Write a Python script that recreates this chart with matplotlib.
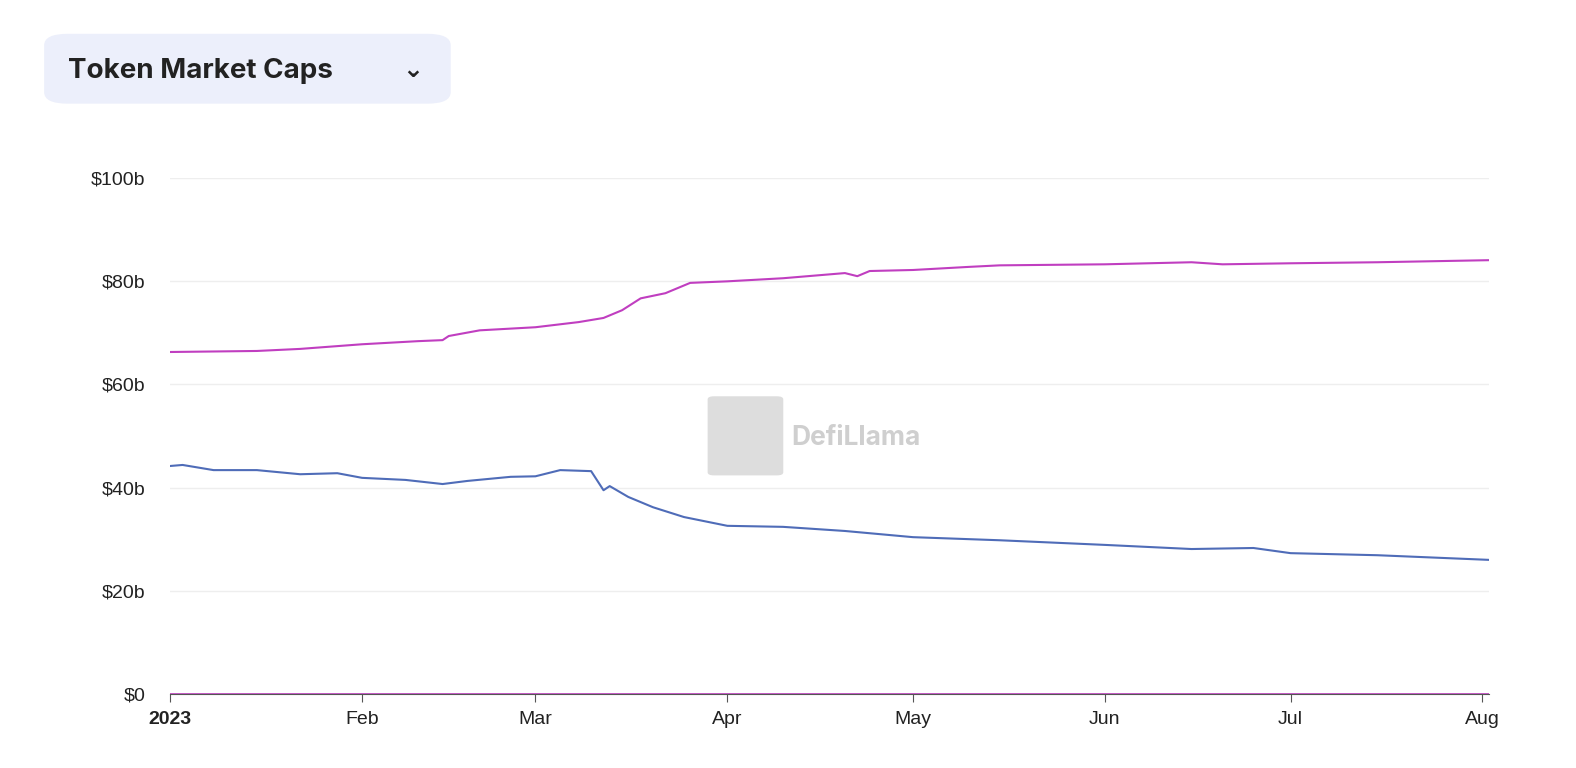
import matplotlib.pyplot as plt
from matplotlib.patches import FancyBboxPatch
import pandas as pd

# dados (bilhões de USD)
pink_dates = ['2023-01-01', '2023-01-15', '2023-01-22', '2023-02-01', '2023-02-10', '2023-02-14',
              '2023-02-15', '2023-02-20', '2023-03-01', '2023-03-08', '2023-03-12', '2023-03-15',
              '2023-03-18', '2023-03-22', '2023-03-26', '2023-04-01', '2023-04-10', '2023-04-20',
              '2023-04-22', '2023-04-24', '2023-05-01', '2023-05-10', '2023-05-15', '2023-06-01',
              '2023-06-15', '2023-06-20', '2023-07-01', '2023-07-15', '2023-08-02']
pink_vals = [66.3, 66.5, 66.9, 67.8, 68.4, 68.6, 69.4, 70.5, 71.1, 72.1, 72.9, 74.4,
             76.7, 77.7, 79.7, 80.0, 80.6, 81.6, 81.0, 82.0, 82.2, 82.8, 83.1, 83.3,
             83.7, 83.3, 83.5, 83.7, 84.1]

blue_dates = ['2023-01-01', '2023-01-03', '2023-01-08', '2023-01-15', '2023-01-22', '2023-01-28',
              '2023-02-01', '2023-02-08', '2023-02-14', '2023-02-18', '2023-02-25', '2023-03-01',
              '2023-03-05', '2023-03-10', '2023-03-12', '2023-03-13', '2023-03-16', '2023-03-20',
              '2023-03-25', '2023-04-01', '2023-04-10', '2023-04-20', '2023-05-01', '2023-05-15',
              '2023-06-01', '2023-06-15', '2023-06-25', '2023-07-01', '2023-07-15', '2023-08-02']
blue_vals = [44.2, 44.4, 43.4, 43.4, 42.6, 42.8, 41.9, 41.5, 40.7, 41.3, 42.1, 42.2,
             43.4, 43.2, 39.5, 40.3, 38.2, 36.2, 34.3, 32.6, 32.4, 31.6, 30.4, 29.8,
             28.9, 28.1, 28.3, 27.3, 26.9, 26.0]

tick_dates = ['2023-01-01', '2023-02-01', '2023-03-01', '2023-04-01', '2023-05-01',
              '2023-06-01', '2023-07-01', '2023-08-01']
tick_labels = ['2023', 'Feb', 'Mar', 'Apr', 'May', 'Jun', 'Jul', 'Aug']
y_ticks = [0, 20, 40, 60, 80, 100]

plt.rcParams['font.family'] = ['Liberation Sans', 'DejaVu Sans']

fig = plt.figure(figsize=(15.76, 7.68), dpi=100)
ax = fig.add_axes([0.108, 0.0964, 0.8366, 0.6716])

ax.plot(pd.to_datetime(pink_dates), pink_vals, color='#c03ec0', lw=1.5)
ax.plot(pd.to_datetime(blue_dates), blue_vals, color='#4f6cb8', lw=1.5)

ax.set_xlim(pd.Timestamp('2023-01-01'), pd.Timestamp('2023-08-02'))
ax.set_ylim(0, 100)
ax.set_yticks(y_ticks)
ax.set_yticklabels(['$0'] + [f'${v}b' for v in y_ticks[1:]])
ax.set_xticks(pd.to_datetime(tick_dates))
ax.set_xticklabels(tick_labels)
ax.get_xticklabels()[0].set_fontweight('bold')
ax.tick_params(axis='both', labelsize=14, colors='#222222')
ax.tick_params(axis='y', length=0, pad=18)
ax.tick_params(axis='x', length=6, color='#555555', pad=6)
ax.grid(axis='y', color='#eeeeee', lw=1)
for s in ['top', 'right', 'left']:
    ax.spines[s].set_visible(False)
ax.spines['bottom'].set_color('#555555')
ax.axhline(0, color='#c03ec0', lw=1.2)

# marca d'água
fig.text(0.502, 0.43, 'DefiLlama', fontsize=19, fontweight='bold', color='#cfcfcf', ha='left', va='center',
         family=['Inter', 'DejaVu Sans'])
fig.patches.append(FancyBboxPatch((0.453, 0.385), 0.04, 0.095, boxstyle='round,pad=0.004',
                                  transform=fig.transFigure, fc='#dddddd', ec='none'))

# cabeçalho
fig.patches.append(FancyBboxPatch((0.028, 0.865), 0.258, 0.091, boxstyle='round,pad=0,rounding_size=0.015',
                                  transform=fig.transFigure, fc='#eceffb', ec='none'))
fig.text(0.043, 0.907, 'Token Market Caps', fontsize=20, fontweight='bold', color='#222222', va='center',
         family=['Inter', 'DejaVu Sans'])
fig.text(0.262, 0.909, '⌄', fontsize=18, fontweight='bold', color='#222222', va='center', ha='center',
         family=['DejaVu Sans'])

fig.savefig('out.png', dpi=100, facecolor='white')
